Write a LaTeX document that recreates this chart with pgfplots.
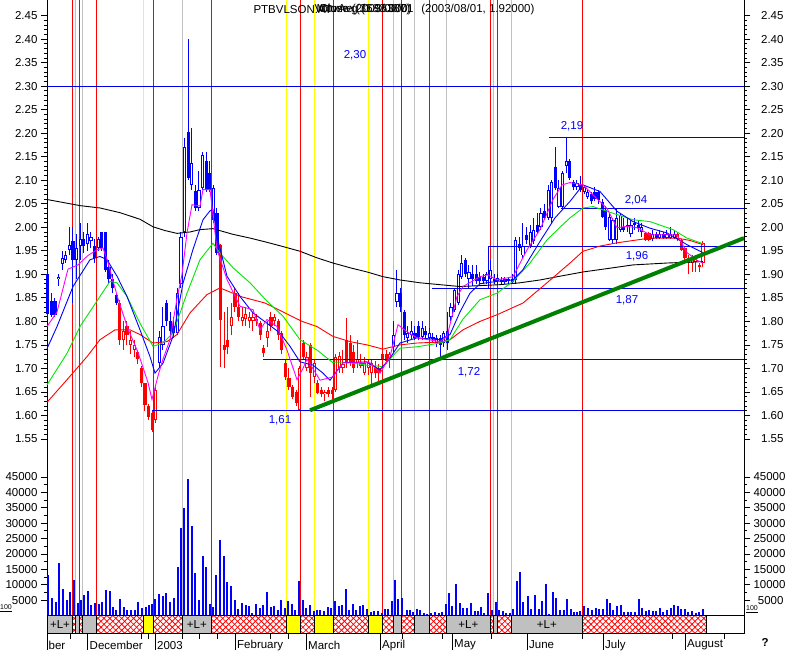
\documentclass[border=0pt]{standalone}
\usepackage{fontspec}
\setmainfont{Liberation Sans}
\usepackage{pgfplots}
\pgfplotsset{compat=1.18}
\usepackage{pgfplotstable}
\usetikzlibrary{patterns.meta}
\definecolor{cblue}{RGB}{0,0,255}
\definecolor{cred}{RGB}{255,0,0}
\definecolor{cgray}{RGB}{192,192,192}
\definecolor{cyel}{RGB}{255,255,0}
\definecolor{cmag}{RGB}{255,0,255}
\definecolor{cgreen}{RGB}{0,230,0}
\definecolor{ctrend}{RGB}{0,128,0}
\definecolor{hblue}{RGB}{0,0,230}

% candles: i = bar index, lo/hi = body, l/h = wick
\pgfplotstableread{
i lo hi l h
0 1.815 1.900 1.810 1.920
1 1.814 1.843 1.810 1.860
2 1.814 1.843 1.810 1.850
7 1.930 1.970 1.840 2.000
10 1.960 1.975 1.945 1.990
13 1.935 1.960 1.925 1.975
15 1.955 1.990 1.950 1.990
16 1.910 1.990 1.905 1.990
17 1.890 1.915 1.880 1.930
18 1.870 1.890 1.860 1.900
19 1.840 1.855 1.835 1.860
33 1.800 1.840 1.790 1.845
34 1.780 1.800 1.770 1.820
35 1.775 1.790 1.765 1.810
39 2.105 2.203 2.100 2.400
41 2.040 2.078 2.035 2.090
44 2.080 2.140 2.075 2.160
45 2.080 2.116 2.075 2.140
47 1.946 2.030 1.940 2.040
98 1.830 1.860 1.820 1.870
99 1.770 1.820 1.760 1.825
102 1.765 1.775 1.760 1.790
103 1.767 1.790 1.760 1.800
105 1.770 1.780 1.765 1.790
107 1.762 1.767 1.755 1.775
109 1.750 1.765 1.720 1.770
111 1.754 1.780 1.740 1.820
116 1.900 1.930 1.895 1.935
118 1.890 1.900 1.875 1.920
119 1.885 1.900 1.880 1.920
120 1.885 1.895 1.880 1.905
121 1.885 1.895 1.880 1.900
124 1.885 1.890 1.880 1.900
126 1.883 1.888 1.880 1.895
129 1.883 1.890 1.880 1.900
131 1.955 1.965 1.950 1.980
133 1.973 1.984 1.965 2.000
136 1.990 2.005 1.985 2.030
138 2.020 2.035 2.015 2.050
141 2.084 2.128 2.080 2.170
145 2.105 2.140 2.100 2.145
146 2.086 2.097 2.080 2.100
148 2.080 2.090 2.075 2.110
151 2.055 2.070 2.050 2.075
152 2.060 2.075 2.055 2.085
153 2.058 2.075 2.050 2.080
154 2.022 2.054 2.020 2.060
155 2.001 2.037 1.995 2.045
160 1.995 2.000 1.990 2.020
163 2.005 2.010 1.995 2.020
164 1.998 2.005 1.990 2.015
169 1.977 1.985 1.975 1.990
171 1.977 1.985 1.975 1.990
}\tBF

\pgfplotstableread{
i lo hi l h
3 1.890 1.895 1.875 1.900
4 1.922 1.935 1.910 1.950
5 1.930 1.940 1.925 1.950
6 1.952 1.963 1.940 2.000
8 1.930 1.955 1.890 1.985
9 1.960 1.975 1.930 2.010
11 1.965 1.985 1.950 2.010
12 1.970 1.980 1.955 1.990
14 1.955 1.975 1.950 1.980
31 1.712 1.767 1.700 1.780
32 1.750 1.790 1.740 1.830
36 1.775 1.860 1.770 1.870
37 1.880 1.980 1.870 1.990
38 1.990 2.170 1.980 2.190
40 2.090 2.137 2.080 2.210
42 2.040 2.080 2.035 2.120
43 2.084 2.154 2.080 2.160
46 2.016 2.084 2.010 2.090
96 1.745 1.770 1.735 1.800
97 1.842 1.860 1.830 1.910
100 1.765 1.775 1.755 1.790
101 1.770 1.780 1.760 1.800
104 1.767 1.785 1.760 1.800
106 1.765 1.775 1.760 1.785
108 1.755 1.765 1.745 1.770
110 1.755 1.775 1.745 1.780
112 1.810 1.830 1.800 1.840
113 1.825 1.867 1.820 1.870
114 1.840 1.900 1.835 1.910
115 1.895 1.925 1.890 1.940
117 1.890 1.905 1.870 1.920
122 1.885 1.900 1.880 1.905
123 1.890 1.910 1.880 1.930
125 1.885 1.893 1.880 1.900
127 1.883 1.890 1.880 1.895
128 1.885 1.890 1.880 1.895
130 1.888 1.973 1.880 1.980
132 1.940 1.960 1.935 2.010
134 1.960 1.990 1.955 2.005
135 1.970 1.995 1.965 2.020
137 2.000 2.030 1.995 2.040
139 2.020 2.080 2.015 2.090
140 2.020 2.097 2.010 2.100
142 2.044 2.084 2.040 2.100
143 2.044 2.116 2.040 2.120
144 2.130 2.140 2.116 2.190
147 2.085 2.095 2.080 2.100
149 2.075 2.085 2.070 2.090
150 2.065 2.075 2.060 2.080
156 1.973 2.022 1.970 2.030
157 1.973 2.015 1.965 2.020
158 1.973 2.020 1.965 2.040
159 1.995 2.025 1.990 2.030
161 2.000 2.005 1.990 2.020
162 1.985 2.005 1.980 2.015
165 1.990 2.000 1.980 2.010
168 1.975 1.985 1.970 1.995
170 1.977 1.985 1.975 1.995
172 1.978 1.985 1.975 1.995
173 1.978 1.985 1.975 2.000
174 1.978 1.986 1.975 1.995
}\tBH

\pgfplotstableread{
i lo hi l h
20 1.760 1.840 1.750 1.845
22 1.770 1.790 1.750 1.800
25 1.720 1.735 1.710 1.740
26 1.670 1.700 1.660 1.705
27 1.622 1.669 1.610 1.670
28 1.597 1.620 1.590 1.625
29 1.570 1.605 1.565 1.610
48 1.803 1.963 1.703 1.965
49 1.740 1.750 1.700 1.820
50 1.745 1.760 1.730 1.830
52 1.830 1.860 1.820 1.870
53 1.810 1.830 1.800 1.860
59 1.771 1.797 1.760 1.800
60 1.733 1.744 1.725 1.750
62 1.790 1.810 1.780 1.820
64 1.770 1.800 1.760 1.805
65 1.739 1.775 1.730 1.780
66 1.682 1.712 1.675 1.720
67 1.660 1.680 1.655 1.700
68 1.640 1.660 1.635 1.665
69 1.627 1.650 1.620 1.655
71 1.724 1.754 1.720 1.760
73 1.690 1.750 1.640 1.755
75 1.648 1.669 1.645 1.675
76 1.645 1.655 1.640 1.660
78 1.645 1.655 1.640 1.660
79 1.645 1.655 1.635 1.660
83 1.712 1.761 1.700 1.807
84 1.712 1.755 1.705 1.770
85 1.700 1.735 1.690 1.750
91 1.690 1.700 1.680 1.715
92 1.690 1.700 1.670 1.710
93 1.720 1.730 1.705 1.740
94 1.715 1.730 1.710 1.740
166 1.973 1.988 1.970 1.990
167 1.973 1.988 1.970 1.990
176 1.952 1.973 1.950 1.975
177 1.935 1.956 1.925 1.960
181 1.915 1.920 1.905 1.925
}\tRF

\pgfplotstableread{
i lo hi l h
21 1.760 1.780 1.740 1.800
23 1.750 1.760 1.730 1.780
24 1.740 1.750 1.725 1.760
30 1.590 1.654 1.585 1.660
51 1.790 1.810 1.770 1.840
54 1.800 1.810 1.790 1.830
55 1.805 1.815 1.790 1.830
56 1.800 1.810 1.785 1.820
57 1.800 1.810 1.780 1.820
58 1.800 1.805 1.790 1.815
61 1.765 1.780 1.745 1.800
63 1.800 1.810 1.790 1.815
70 1.612 1.700 1.610 1.705
72 1.700 1.724 1.695 1.735
74 1.682 1.712 1.670 1.720
77 1.645 1.650 1.630 1.655
80 1.654 1.725 1.650 1.730
81 1.700 1.727 1.690 1.735
82 1.700 1.710 1.690 1.740
86 1.712 1.720 1.700 1.760
87 1.705 1.712 1.700 1.730
88 1.690 1.712 1.685 1.725
89 1.700 1.712 1.685 1.720
90 1.690 1.712 1.660 1.720
95 1.720 1.730 1.700 1.735
175 1.975 1.985 1.970 1.990
178 1.925 1.935 1.900 1.940
179 1.925 1.935 1.905 1.940
180 1.927 1.933 1.905 1.940
182 1.924 1.967 1.915 1.970
}\tRH

\pgfplotsset{
  panel/.style={scale only axis, width=697bp, xmin=47, xmax=744,
    axis x line=none, tick align=outside,
    axis line style={black, line width=0.8bp},
    tick style={black, line width=0.7bp},
    major tick length=6bp, minor tick length=3bp,
    tick label style={font=\fontsize{11.5bp}{13bp}\selectfont},
    /pgf/number format/assume math mode=true},
  wick/.style={draw=none, mark=none, forget plot,
    error bars/.cd, y dir=plus, y explicit, error mark=none,
    error bar style={draw=#1, line width=1bp}},
  body/.style={draw=none, mark=none, forget plot,
    error bars/.cd, y dir=plus, y explicit, error mark=none,
    error bar style={draw=#1, line width=3.2bp}},
  inner/.style={draw=none, mark=none, forget plot,
    error bars/.cd, y dir=plus, y explicit, error mark=none,
    error bar style={draw=white, line width=1.2bp}},
}
\tikzset{
  hatchA/.style={pattern={Lines[angle=45,distance=4.2bp,line width=0.8bp]}, pattern color=cred},
  hatchB/.style={pattern={Lines[angle=-45,distance=4.2bp,line width=0.8bp]}, pattern color=cred, draw=black, line width=0.8bp},
}

\newcommand{\candles}[3]{%
  \addplot[wick=#2] table[x expr=47.7+3.6*\thisrow{i}, y=l, y error expr=\thisrow{h}-\thisrow{l}] {#1};
  \addplot[body=#2] table[x expr=47.7+3.6*\thisrow{i}, y=lo, y error expr=\thisrow{hi}-\thisrow{lo}] {#1};
  \ifx#3h
  \addplot[inner] table[x expr=47.7+3.6*\thisrow{i}, y expr=\thisrow{lo}+0.0021, y error expr={max(\thisrow{hi}-\thisrow{lo}-0.0042,0)}] {#1};
  \fi
}
\newcommand{\hatchbox}[2]{%
  \fill[hatchA] (#1,0) rectangle (#2,1);
  \draw[hatchB] (#1,0) rectangle (#2,1);}
\newcommand{\graybox}[2]{\draw[fill=cgray, line width=0.8bp] (#1,0) rectangle (#2,1);}
\newcommand{\yelbox}[2]{\draw[fill=cyel, line width=0.8bp] (#1,0) rectangle (#2,1);}

\begin{document}
\begin{tikzpicture}
\path[use as bounding box] (0bp,0bp) rectangle (791bp,-651bp);

% ---------------- price panel ----------------
\begin{axis}[panel, at={(47bp,0bp)}, anchor=north west, height=455bp,
  ymin=1.516, ymax=2.483, axis y line*=left, clip=false,
  ytick={1.55,1.60,1.65,1.70,1.75,1.80,1.85,1.90,1.95,2.00,2.05,2.10,2.15,2.20,2.25,2.30,2.35,2.40,2.45},
  minor y tick num=4,
  /pgf/number format/fixed, /pgf/number format/fixed zerofill, /pgf/number format/precision=2]
% vertical event lines
\pgfplotsinvokeforeach{72.3,79.3,96.3,153.3,211.3,300.3,333.3,382.3,401.3,429.7,490.3,497.3,582.3}{
  \addplot[cred, line width=1bp, forget plot] coordinates {(#1,1.516) (#1,2.483)};}
\pgfplotsinvokeforeach{75.3,82.3,182.3,393.3,414.3,446.3,493.3,511.3}{
  \addplot[cgray, line width=1bp, forget plot] coordinates {(#1,1.516) (#1,2.483)};}
\pgfplotsinvokeforeach{143.3,286.3,314.3,368.3}{
  \addplot[cyel, line width=1bp, forget plot] coordinates {(#1,1.516) (#1,2.483)};}
% candles
\candles{\tBF}{cblue}{f}
\candles{\tBH}{cblue}{h}
\candles{\tRF}{cred}{f}
\candles{\tRH}{cred}{h}
% horizontal levels
\addplot[hblue, line width=1bp] coordinates {(47,2.30) (744,2.30)};
\addplot[hblue, line width=1bp] coordinates {(549,2.19) (744,2.19)};
\addplot[hblue, line width=1bp] coordinates {(561,2.04) (744,2.04)};
\addplot[hblue, line width=1bp] coordinates {(744,1.96) (488,1.96) (488,1.87)};
\addplot[hblue, line width=1bp] coordinates {(432,1.87) (744,1.87)};
\addplot[hblue, line width=1bp] coordinates {(263,1.72) (744,1.72)};
\addplot[hblue, line width=1bp] coordinates {(152,1.61) (744,1.61)};
% moving averages
\addplot[black, line width=0.9bp] coordinates {(47,2.059) (80,2.046) (100,2.041) (120,2.031) (140,2.017) (153,2.001) (165,1.993) (177,1.987) (190,1.990) (200,1.995) (213,1.997) (233,1.985) (250,1.977) (267,1.968) (283,1.959) (300,1.949) (317,1.935) (333,1.924) (350,1.914) (367,1.905) (383,1.895) (400,1.888) (420,1.882) (440,1.878) (460,1.874) (480,1.876) (500,1.878) (520,1.882) (540,1.888) (560,1.896) (583,1.905) (610,1.913) (633,1.920) (667,1.924) (703,1.927)};
\addplot[cred, line width=0.9bp] coordinates {(47,1.628) (67,1.676) (87,1.725) (100,1.761) (115,1.782) (130,1.782) (140,1.772) (153,1.754) (167,1.757) (177,1.772) (190,1.818) (207,1.857) (220,1.871) (242,1.852) (265,1.839) (285,1.818) (302,1.800) (317,1.789) (333,1.768) (350,1.757) (367,1.750) (383,1.741) (400,1.750) (417,1.754) (440,1.756) (450,1.761) (463,1.782) (480,1.800) (497,1.814) (523,1.839) (547,1.882) (570,1.924) (583,1.949) (600,1.960) (617,1.967) (650,1.977) (677,1.977) (690,1.972) (703,1.963)};
\addplot[cgreen, line width=0.9bp] coordinates {(47,1.665) (67,1.732) (80,1.789) (100,1.853) (110,1.885) (117,1.882) (127,1.853) (140,1.796) (153,1.747) (163,1.754) (173,1.775) (187,1.860) (200,1.931) (213,1.966) (220,1.945) (233,1.914) (250,1.882) (267,1.843) (283,1.811) (300,1.761) (317,1.739) (333,1.712) (350,1.712) (367,1.707) (383,1.704) (400,1.743) (417,1.746) (440,1.754) (450,1.761) (463,1.805) (480,1.846) (497,1.860) (513,1.885) (530,1.924) (547,1.973) (560,2.000) (570,2.020) (583,2.041) (593,2.044) (617,2.027) (633,2.016) (650,2.012) (673,1.995) (687,1.977) (703,1.965)};
\addplot[cblue, line width=0.9bp] coordinates {(47,1.742) (57,1.789) (73,1.874) (90,1.931) (100,1.938) (107,1.931) (117,1.896) (127,1.853) (140,1.782) (150,1.725) (155,1.690) (163,1.711) (173,1.768) (183,1.881) (193,1.953) (203,2.016) (210,2.035) (213,2.038) (217,1.981) (227,1.896) (240,1.853) (253,1.818) (267,1.796) (280,1.775) (290,1.747) (300,1.714) (313,1.707) (323,1.690) (330,1.675) (343,1.712) (367,1.714) (380,1.697) (390,1.722) (400,1.754) (417,1.765) (440,1.761) (450,1.772) (460,1.820) (470,1.860) (480,1.880) (497,1.885) (513,1.888) (523,1.910) (530,1.935) (540,1.970) (555,2.020) (570,2.055) (583,2.090) (600,2.076) (617,2.034) (633,2.012) (650,1.998) (667,1.988) (687,1.963) (703,1.946)};
\addplot[cmag, line width=0.9bp] coordinates {(47,1.789) (57,1.820) (68,1.911) (78,1.920) (88,1.940) (97,1.952) (103,1.956) (108,1.925) (118,1.848) (128,1.784) (138,1.734) (148,1.670) (152,1.634) (158,1.684) (163,1.720) (170,1.761) (177,1.848) (182,1.900) (187,1.988) (192,2.048) (200,2.045) (203,2.080) (210,2.080) (217,1.953) (227,1.889) (240,1.832) (253,1.825) (260,1.782) (267,1.804) (277,1.789) (287,1.739) (297,1.676) (303,1.700) (307,1.720) (320,1.675) (333,1.682) (343,1.712) (357,1.712) (370,1.712) (380,1.690) (390,1.725) (398,1.793) (407,1.778) (417,1.765) (440,1.757) (447,1.768) (457,1.853) (463,1.874) (480,1.895) (488,1.899) (497,1.888) (513,1.895) (527,1.952) (540,1.995) (553,2.059) (562,2.090) (570,2.095) (583,2.090) (593,2.069) (607,2.040) (617,1.999) (627,2.002) (637,1.999) (650,1.984) (677,1.984) (687,1.946) (697,1.930) (703,1.924)};
% trend line
\addplot[ctrend, line width=4bp] coordinates {(310,1.611) (744,1.977)};
% texts
\node[anchor=west, font=\fontsize{11.5bp}{13bp}\selectfont] at (250,2.462) {PTBVLSON.AT};
\node[anchor=west, font=\fontsize{11.5bp}{13bp}\selectfont] at (311,2.462) {Volume (3683.000)};
\node[anchor=west, font=\fontsize{11.5bp}{13bp}\selectfont] at (313,2.462) {MovAvg (1.96387)};
\node[anchor=west, font=\fontsize{11.5bp}{13bp}\selectfont] at (316,2.462) {Close (2003/08/01};
\node[anchor=east, font=\fontsize{11.5bp}{13bp}\selectfont] at (538,2.462) {(2003/08/01, 1.92000)};
\node[text=cblue, font=\fontsize{11.5bp}{13bp}\selectfont] at (355,2.366) {2,30};
\node[text=cblue, font=\fontsize{11.5bp}{13bp}\selectfont] at (572,2.215) {2,19};
\node[text=cblue, font=\fontsize{11.5bp}{13bp}\selectfont] at (636,2.058) {2,04};
\node[text=cblue, font=\fontsize{11.5bp}{13bp}\selectfont] at (637,1.939) {1,96};
\node[text=cblue, font=\fontsize{11.5bp}{13bp}\selectfont] at (627,1.845) {1,87};
\node[text=cblue, font=\fontsize{11.5bp}{13bp}\selectfont] at (469,1.692) {1,72};
\node[text=cblue, font=\fontsize{11.5bp}{13bp}\selectfont] at (280,1.590) {1,61};
\end{axis}
\begin{axis}[panel, at={(47bp,0bp)}, anchor=north west, height=455bp,
  ymin=1.516, ymax=2.483, axis y line*=right,
  ytick={1.55,1.60,1.65,1.70,1.75,1.80,1.85,1.90,1.95,2.00,2.05,2.10,2.15,2.20,2.25,2.30,2.35,2.40,2.45},
  minor y tick num=4,
  yticklabel style={text width=30bp, align=right},
  /pgf/number format/fixed, /pgf/number format/fixed zerofill, /pgf/number format/precision=2]
\addplot[draw=none] coordinates {(47,2)};
\end{axis}

% ---------------- volume panel ----------------
\begin{axis}[panel, at={(47bp,-455bp)}, anchor=north west, height=160.5bp,
  ymin=0, ymax=52100, axis y line*=left, clip=false,
  ytick={5000,10000,...,45000}, minor y tick num=1, scaled y ticks=false,
  /pgf/number format/fixed, /pgf/number format/1000 sep={}]
\pgfplotsinvokeforeach{72.3,79.3,96.3,153.3,211.3,300.3,333.3,382.3,401.3,429.7,490.3,497.3,582.3}{
  \addplot[cred, line width=1bp, forget plot] coordinates {(#1,0) (#1,52100)};}
\pgfplotsinvokeforeach{75.3,82.3,182.3,393.3,414.3,446.3,493.3,511.3}{
  \addplot[cgray, line width=1bp, forget plot] coordinates {(#1,0) (#1,52100)};}
\pgfplotsinvokeforeach{143.3,286.3,314.3,368.3}{
  \addplot[cyel, line width=1bp, forget plot] coordinates {(#1,0) (#1,52100)};}
\addplot[ycomb, cblue, line width=2bp, mark=none] coordinates {
(47.7,13070) (51.7,5620) (55.7,4320) (58.7,17170) (63,8530) (66.7,5180) (69.7,7780) (73.7,11450)
(77.7,4000) (80.7,4970) (84,6700) (87.7,7880) (90.7,3460) (94.7,4000) (99,3780) (101.7,4430)
(105.7,8210) (109.7,7990) (113.3,2700) (116,1730) (120,5290) (123.7,2810) (127,1840) (130.7,1840)
(134.7,1840) (138,4320) (141.7,2590) (145.7,2810) (148.5,3460) (151.5,3780) (155,5510) (158.7,7130)
(163,6260) (166.3,7240) (170,4430) (173.7,5620) (177.7,15770) (180.7,28510) (184,34780) (188,44170)
(191.7,29160) (195,13930) (199,4970) (202.7,19220) (206,15770) (210,3890) (213.3,2920) (216.3,13070)
(219.7,24410) (223.7,19220) (227,11020) (230.7,9610) (234.7,4970) (238,2160) (241.7,4210) (245.7,3460)
(248.7,3240) (252,970) (255.7,3890) (259.7,2590) (263.3,3350) (267,7780) (270.7,2810) (274,3240)
(277.7,1840) (281,5180) (285,2480) (288,4640) (291.7,3670) (295.3,1730) (299,11120) (303,5180)
(306.3,2380) (310,3350) (313.5,1510) (316.5,1940) (319.7,1730) (323.7,1400) (328,2700) (331,2590)
(335.3,4860) (338.7,3020) (342,3560) (346,8530) (349.3,1730) (352.5,3670) (356,1840) (359.7,3130)
(363,3560) (366.7,2050) (370.7,1300) (374.3,1620) (378.3,1400) (381.7,970) (384.7,2160) (388.3,2050)
(392,4640) (395.3,11670) (398.3,5290) (402,5620) (406.7,1730) (410,1730) (413.3,1300) (416.7,2050)
(420,1940) (424,760) (427.3,650) (430.7,760) (435,1080) (438.7,760) (441.7,1080) (445.7,3890)
(449,7240) (452.3,3130) (456,10380) (459.7,4210) (463,2480) (466.7,2480) (470.7,4210) (474.7,1620)
(477.7,1620) (481,2700) (484.3,760) (488,7460) (491.7,1730) (495.7,4320) (499,1940) (502.7,1400)
(506,860) (509.7,970) (512.7,2050) (516.7,11130) (519.7,14050) (523.3,4320) (527.7,6270) (531,2050)
(535,6810) (538.7,2160) (542.3,4860) (546,10270) (549.3,650) (552.7,7780) (556,5840) (560.3,1730)
(563.7,1730) (566.7,5510) (570.7,2270) (574.3,1080) (577.3,1300) (580.3,1400) (584.3,3020) (587.7,2590)
(591.7,1730) (595.7,2380) (598.7,2050) (602.7,2050) (606.7,5290) (610,4000) (613.3,1730) (617,3130)
(620.7,3350) (624.3,1080) (627.7,1190) (631.3,1300) (635,1080) (638.7,5290) (642.3,2590) (645.7,1400)
(649,1730) (652.7,1620) (656.3,1620) (659.7,2380) (663.3,1190) (667,1730) (670.7,2380) (674.3,3350)
(677.7,3020) (681.3,2050) (684.7,2270) (688.3,1190) (692,1400) (695.7,760) (699,1300) (702.7,2270)};
\end{axis}
\begin{axis}[panel, at={(47bp,-455bp)}, anchor=north west, height=160.5bp,
  ymin=0, ymax=52100, axis y line*=right,
  ytick={5000,10000,...,45000}, minor y tick num=1, scaled y ticks=false,
  yticklabel style={text width=30bp, align=right},
  /pgf/number format/fixed, /pgf/number format/1000 sep={}]
\addplot[draw=none] coordinates {(47,1000)};
\end{axis}

% ---------------- signal strip ----------------
\begin{axis}[scale only axis, at={(47bp,-615.5bp)}, anchor=north west,
  width=697bp, height=17.5bp, xmin=47, xmax=744, ymin=0, ymax=1, clip=false,
  axis line style={black, line width=0.8bp},
  ytick=\empty, xtick pos=bottom, tick align=outside,
  xtick={47.7,87.7,155,235,306,380,452.3,527.3,603,685}, xticklabels=\empty,
  minor xtick={70.7,141.7,148.3,182.3,199,217.3,270,288.7,402,442.7,491.7,582.7,672.7,724.3},
  major tick length=17bp, minor tick length=6bp,
  tick style={black, line width=0.7bp}]
\addplot[draw=none, forget plot] coordinates {(47,0.5)};
\graybox{47.7}{72.3}
\graybox{75.3}{79.3}
\graybox{82.3}{96.3}
\graybox{182.3}{211.3}
\graybox{393.3}{401.3}
\graybox{414.3}{429.7}
\graybox{446.3}{490.3}
\graybox{493.3}{497.3}
\graybox{511.3}{582.3}
\hatchbox{72.3}{75.3}
\hatchbox{79.3}{82.3}
\hatchbox{96.3}{143.3}
\hatchbox{153.3}{182.3}
\hatchbox{211.3}{286.3}
\hatchbox{300.3}{314.3}
\hatchbox{333.3}{368.3}
\hatchbox{382.3}{393.3}
\hatchbox{401.3}{414.3}
\hatchbox{429.7}{446.3}
\hatchbox{490.3}{493.3}
\hatchbox{497.3}{511.3}
\hatchbox{582.3}{706.3}
\yelbox{143.3}{153.3}
\yelbox{286.3}{300.3}
\yelbox{314.3}{333.3}
\yelbox{368.3}{382.3}
\node[font=\fontsize{11.5bp}{13bp}\selectfont] at (60,0.5) {+L+};
\node[font=\fontsize{11.5bp}{13bp}\selectfont] at (196.8,0.5) {+L+};
\node[font=\fontsize{11.5bp}{13bp}\selectfont] at (468.3,0.5) {+L+};
\node[font=\fontsize{11.5bp}{13bp}\selectfont] at (546.8,0.5) {+L+};
\node[anchor=west, inner sep=1bp, font=\fontsize{11.5bp}{13bp}\selectfont] at (47.5,-0.69) {ber};
\node[anchor=west, inner sep=1bp, font=\fontsize{11.5bp}{13bp}\selectfont] at (88.5,-0.69) {December};
\node[anchor=west, inner sep=1bp, font=\fontsize{11.5bp}{13bp}\selectfont] at (156,-0.69) {2003};
\node[anchor=west, inner sep=1bp, font=\fontsize{11.5bp}{13bp}\selectfont] at (236,-0.69) {February};
\node[anchor=west, inner sep=1bp, font=\fontsize{11.5bp}{13bp}\selectfont] at (307,-0.69) {March};
\node[anchor=west, inner sep=1bp, font=\fontsize{11.5bp}{13bp}\selectfont] at (381,-0.69) {April};
\node[anchor=west, inner sep=1bp, font=\fontsize{11.5bp}{13bp}\selectfont] at (453,-0.69) {May};
\node[anchor=west, inner sep=1bp, font=\fontsize{11.5bp}{13bp}\selectfont] at (528,-0.69) {June};
\node[anchor=west, inner sep=1bp, font=\fontsize{11.5bp}{13bp}\selectfont] at (604,-0.69) {July};
\node[anchor=west, inner sep=1bp, font=\fontsize{11.5bp}{13bp}\selectfont] at (686,-0.69) {August};
\node[font=\bfseries\fontsize{11.5bp}{13bp}\selectfont] at (765,-0.57) {?};
\end{axis}
\node[font=\fontsize{7bp}{8bp}\selectfont, inner sep=0.5bp] at (6bp,-608bp) {\underline{100}};
\node[font=\fontsize{7bp}{8bp}\selectfont, inner sep=0.5bp] at (752bp,-609bp) {\underline{100}};
\end{tikzpicture}
\end{document}
